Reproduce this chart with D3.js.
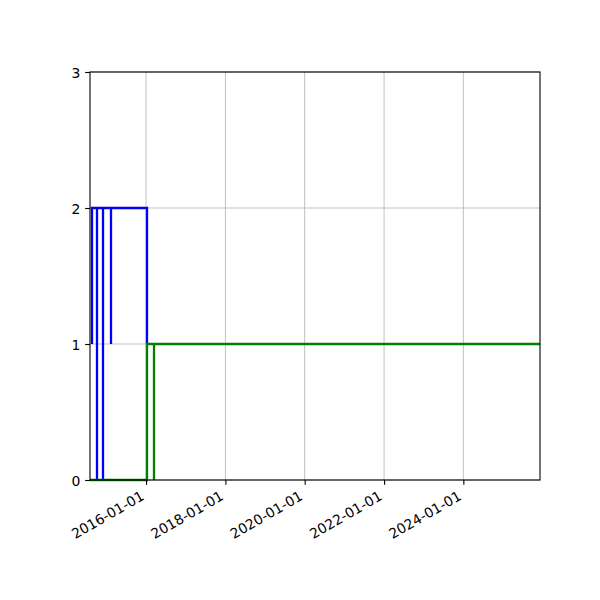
<!DOCTYPE html>
<html>
<head>
<meta charset="utf-8">
<script src="https://cdn.jsdelivr.net/npm/d3@7"></script>
<style>
  body { margin: 0; background: white; }
  svg { display: block; }
  .tick text { font-family: 'DejaVu Sans', sans-serif; }
</style>
</head>
<body>
<svg id="chart"></svg>
<script>
// blue series: step points (date, count)
const blueDates = ['2014-08-20', '2014-08-20', '2014-10-09', '2014-10-09', '2014-11-27', '2014-11-27', '2015-02-13', '2015-02-13', '2016-01-10']
const blueValues = [1, 2, 0, 2, 0, 2, 1, 2, 1]

// green series
const greenDates = ['2014-08-03', '2016-01-10', '2016-03-15', '2016-03-15', '2025-12-07']
const greenValues = [0, 1, 0, 1, 1]

const xTickLabels = ['2016-01-01', '2018-01-01', '2020-01-01', '2022-01-01', '2024-01-01']
const yTicks = [0, 1, 2, 3]

const width = 600
const height = 600
const margin = {top: 72, right: 60, bottom: 120, left: 90}
const fontSize = 13.9
const tickLen = 4.86

const parse = d3.utcParse('%Y-%m-%d')

const blue = blueDates.map((d, i) => ({date: parse(d), value: blueValues[i]}))
const green = greenDates.map((d, i) => ({date: parse(d), value: greenValues[i]}))

const svg = d3.select('#chart')
    .attr('width', width)
    .attr('height', height)

const x = d3.scaleUtc()
    .domain(d3.extent(blue.concat(green), d => d.date))
    .range([margin.left, width - margin.right])

const y = d3.scaleLinear()
    .domain([0, 3])
    .range([height - margin.bottom, margin.top])

const xTicks = xTickLabels.map(parse)

// grid
svg.append('g')
    .selectAll('line')
    .data(xTicks)
    .join('line')
        .attr('x1', d => x(d)).attr('x2', d => x(d))
        .attr('y1', margin.top).attr('y2', height - margin.bottom)
        .attr('stroke', '#b0b0b0')
        .attr('stroke-width', 0.8)

svg.append('g')
    .selectAll('line')
    .data(yTicks)
    .join('line')
        .attr('x1', margin.left).attr('x2', width - margin.right)
        .attr('y1', d => y(d)).attr('y2', d => y(d))
        .attr('stroke', '#b0b0b0')
        .attr('stroke-width', 0.8)

// snap to whole pixels like the raster original
const line = d3.line()
    .x(d => Math.round(x(d.date)))
    .y(d => Math.round(y(d.value)))
    .curve(d3.curveStepAfter)

svg.append('path')
    .datum(blue)
    .attr('fill', 'none')
    .attr('stroke', '#0000ff')
    .attr('stroke-width', 2.3)
    .attr('d', line)

svg.append('path')
    .datum(green)
    .attr('fill', 'none')
    .attr('stroke', '#008000')
    .attr('stroke-width', 2.3)
    .attr('d', line)

// frame
svg.append('rect')
    .attr('x', margin.left)
    .attr('y', margin.top)
    .attr('width', width - margin.left - margin.right)
    .attr('height', height - margin.top - margin.bottom)
    .attr('fill', 'none')
    .attr('stroke', 'black')
    .attr('stroke-width', 1.1)

const xAxis = g => g
    .attr('transform', `translate(0,${height - margin.bottom})`)
    .call(d3.axisBottom(x).tickValues(xTicks).tickFormat(d3.utcFormat('%Y-%m-%d')).tickSizeOuter(0).tickSizeInner(tickLen))
    .call(g => g.select('.domain').remove())
    .call(g => g.selectAll('.tick line').attr('stroke', 'black').attr('stroke-width', 1.1))
    .call(g => g.selectAll('.tick text')
        .attr('fill', 'black')
        .attr('font-size', fontSize)
        .attr('text-anchor', 'end')
        .attr('y', null)
        .attr('dy', null)
        .attr('transform', `translate(-1.45,${tickLen * 2 + 9.2}) rotate(-30)`))

const yAxis = g => g
    .attr('transform', `translate(${margin.left},0)`)
    .call(d3.axisLeft(y).tickValues(yTicks).tickFormat(d3.format('d')).tickSizeOuter(0).tickSizeInner(tickLen).tickPadding(tickLen))
    .call(g => g.select('.domain').remove())
    .call(g => g.selectAll('.tick line').attr('stroke', 'black').attr('stroke-width', 1.1))
    .call(g => g.selectAll('.tick text')
        .attr('fill', 'black')
        .attr('font-size', fontSize)
        .attr('dy', 5.2))

svg.append('g').call(xAxis)
svg.append('g').call(yAxis)
</script>
</body>
</html>
